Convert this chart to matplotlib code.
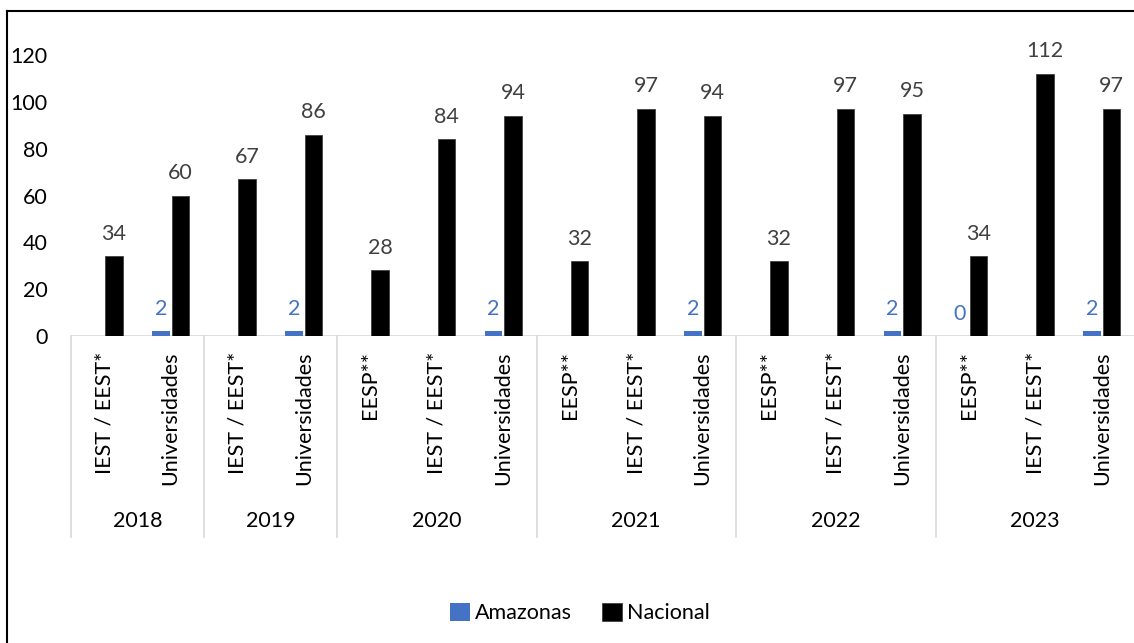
import numpy as np
import matplotlib.pyplot as plt
from matplotlib.lines import Line2D
from matplotlib.transforms import blended_transform_factory

plt.rcParams["font.family"] = ["Lato", "DejaVu Sans"]

# Datos por año y tipo de institución
years = ["2018", "2019", "2020", "2021", "2022", "2023"]
tipos = [
    ["IEST / EEST*", "Universidades"],
    ["IEST / EEST*", "Universidades"],
    ["EESP**", "IEST / EEST*", "Universidades"],
    ["EESP**", "IEST / EEST*", "Universidades"],
    ["EESP**", "IEST / EEST*", "Universidades"],
    ["EESP**", "IEST / EEST*", "Universidades"],
]
amazonas = [
    None, 2,
    None, 2,
    None, None, 2,
    None, None, 2,
    None, None, 2,
    0, None, 2,
]
nacional = [
    34, 60,
    67, 86,
    28, 84, 94,
    32, 97, 94,
    32, 97, 95,
    34, 112, 97,
]

labels = [t for grupo in tipos for t in grupo]
x = np.arange(len(labels))
w = 0.26
off = 0.145
fs = 15.5

fig = plt.figure(figsize=(11.34, 6.43), dpi=100)
ax = fig.add_axes([71 / 1134, 1 - 336 / 643, 1064 / 1134, 281 / 643])

azul = "#4472C4"
am_x = [xi for xi, v in zip(x, amazonas) if v is not None]
am_v = [v for v in amazonas if v is not None]
b1 = ax.bar(np.array(am_x) - off, am_v, width=w, color=azul, label="Amazonas", zorder=3)
b2 = ax.bar(x + off, nacional, width=w, color="black", edgecolor="#404040",
            linewidth=0.6, label="Nacional", zorder=3)

# Etiquetas de valores
for xi, v in zip(am_x, am_v):
    ax.annotate(str(v), (xi - off, v), xytext=(0, 9), textcoords="offset points",
                ha="center", va="bottom", color=azul, fontsize=fs)
for xi, v in zip(x, nacional):
    ax.annotate(str(v), (xi + off, v), xytext=(0, 9), textcoords="offset points",
                ha="center", va="bottom", color="#404040", fontsize=fs)

ax.set_xlim(-0.5, len(labels) - 0.5)
ax.set_ylim(0, 120)
ax.set_yticks(range(0, 121, 20))
ax.tick_params(axis="y", length=0, pad=17, labelsize=fs)
ax.set_xticks(x)
ax.set_xticklabels(labels, rotation=90, va="top", ha="center")
ax.tick_params(axis="x", length=0, pad=11, labelsize=fs)
for s in ax.spines.values():
    s.set_visible(False)
ax.axhline(0, color="#D9D9D9", lw=1.2, zorder=2)

# Separadores y etiquetas de año
trans = blended_transform_factory(ax.transData, ax.transAxes)
pos = -0.5
ax.plot([pos, pos], [0, -0.715], transform=trans, color="#D9D9D9", lw=1.2, clip_on=False)
for year, grupo in zip(years, tipos):
    n = len(grupo)
    ax.text(pos + n / 2, -0.658, year, transform=trans, ha="center", va="center",
            fontsize=fs)
    pos += n
    ax.plot([pos, pos], [0, -0.715], transform=trans, color="#D9D9D9", lw=1.2,
            clip_on=False)

fig.legend(handles=[b1, b2], loc="center", bbox_to_anchor=(580 / 1134, 1 - 613 / 643),
           ncol=2, frameon=False, fontsize=fs, handlelength=0.9, handleheight=0.9,
           handletextpad=0.25, columnspacing=1.4)

# Borde del gráfico
fig.add_artist(Line2D([7 / 1134, 7 / 1134], [0, 1 - 11 / 643], color="black", lw=1.5))
fig.add_artist(Line2D([7 / 1134, 1], [1 - 11 / 643, 1 - 11 / 643], color="black", lw=1.5))

fig.savefig("out.png", dpi=100)
